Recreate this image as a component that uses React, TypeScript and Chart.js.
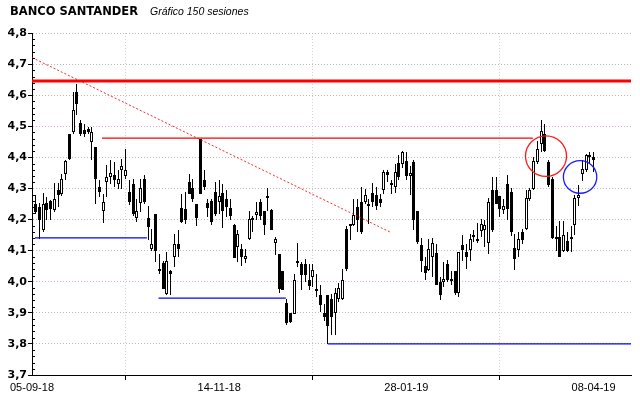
import { useEffect, useRef } from "react";
import { Chart, registerables } from "chart.js";

Chart.register(...registerables);

// ---- data ----
const dateIndex = [0, 50, 100, 150];
const dateLabels = ["05-09-18", "14-11-18", "28-01-19", "08-04-19"];

const opens = [
  4.249, 4.24, 4.167, 4.253, 4.259, 4.232, 4.296, 4.283, 4.347, 4.476,
  4.481, 4.61, 4.51, 4.489, 4.492, 4.449, 4.433, 4.306, 4.227, 4.321,
  4.336, 4.342, 4.315, 4.36, 4.34, 4.29, 4.313, 4.206, 4.253, 4.329,
  4.205, 4.106, 4.218, 4.036, 4.06, 3.961, 4.034, 4.081, 4.122, 4.236,
  4.234, 4.32, 4.302, 4.249, 4.46, 4.326, 4.253, 4.259, 4.288, 4.256,
  4.286, 4.267, 4.237, 4.181, 4.111, 4.106, 4.074, 4.138, 4.197, 4.215,
  4.258, 4.227, 4.27, 4.231, 4.125, 4.09, 4.036, 3.93, 3.899, 3.897,
  4.06, 4.058, 4.058, 4.006, 4.015, 3.972, 3.958, 3.899, 3.956, 3.945,
  3.9, 3.945, 3.945, 4.17, 4.183, 4.184, 4.24, 4.258, 4.256, 4.247,
  4.286, 4.28, 4.265, 4.294, 4.353, 4.312, 4.304, 4.381, 4.379, 4.389,
  4.34, 4.385, 4.226, 4.117, 4.052, 4.038, 4.079, 4.093, 3.999, 3.998,
  4.058, 4.007, 4.034, 3.963, 4.117, 4.097, 4.103, 4.149, 4.132, 4.162,
  4.165, 4.124, 4.294, 4.294, 4.277, 4.232, 4.315, 4.29, 4.11, 4.101,
  4.16, 4.168, 4.267, 4.299, 4.385, 4.444, 4.474, 4.385, 4.331, 4.138,
  4.143, 4.1, 4.13, 4.139, 4.181, 4.27, 4.347, 4.358, 4.401, 4.401,
];
const highs = [
  4.28, 4.253, 4.285, 4.272, 4.262, 4.316, 4.316, 4.347, 4.392, 4.476,
  4.61, 4.637, 4.521, 4.508, 4.497, 4.497, 4.433, 4.328, 4.283, 4.374,
  4.39, 4.385, 4.358, 4.395, 4.428, 4.326, 4.33, 4.267, 4.33, 4.342,
  4.242, 4.17, 4.218, 4.09, 4.068, 4.095, 4.038, 4.154, 4.165, 4.283,
  4.288, 4.347, 4.331, 4.249, 4.46, 4.36, 4.267, 4.267, 4.32, 4.326,
  4.315, 4.294, 4.267, 4.186, 4.165, 4.122, 4.106, 4.229, 4.213, 4.256,
  4.267, 4.229, 4.3, 4.235, 4.143, 4.09, 4.036, 3.946, 3.9, 4.026,
  4.124, 4.063, 4.072, 4.058, 4.058, 4.026, 3.991, 3.929, 3.956, 3.96,
  3.98, 3.995, 4.04, 4.18, 4.186, 4.267, 4.267, 4.304, 4.299, 4.267,
  4.317, 4.304, 4.283, 4.358, 4.358, 4.328, 4.379, 4.406, 4.421, 4.417,
  4.372, 4.39, 4.226, 4.14, 4.08, 4.138, 4.141, 4.122, 4.015, 4.063,
  4.07, 4.036, 4.036, 4.097, 4.149, 4.122, 4.154, 4.165, 4.188, 4.202,
  4.197, 4.268, 4.336, 4.336, 4.277, 4.267, 4.344, 4.3, 4.154, 4.16,
  4.17, 4.294, 4.3, 4.401, 4.454, 4.519, 4.506, 4.39, 4.336, 4.18,
  4.195, 4.195, 4.16, 4.18, 4.278, 4.31, 4.39, 4.41, 4.417, 4.417,
];
const lows = [
  4.219, 4.139, 4.16, 4.197, 4.197, 4.225, 4.239, 4.277, 4.328, 4.39,
  4.476, 4.535, 4.47, 4.467, 4.476, 4.39, 4.25, 4.272, 4.189, 4.274,
  4.315, 4.306, 4.299, 4.299, 4.331, 4.248, 4.213, 4.192, 4.224, 4.25,
  4.133, 4.1, 4.063, 4.025, 3.977, 3.956, 3.956, 4.047, 4.079, 4.19,
  4.186, 4.283, 4.256, 4.179, 4.283, 4.294, 4.208, 4.181, 4.213, 4.219,
  4.172, 4.208, 4.197, 4.076, 4.063, 4.052, 4.06, 4.133, 4.16, 4.2,
  4.2, 4.149, 4.229, 4.165, 4.087, 3.965, 3.972, 3.862, 3.867, 3.895,
  4.047, 3.972, 4.0, 3.972, 3.983, 3.95, 3.902, 3.873, 3.8, 3.83,
  3.83, 3.935, 3.94, 4.035, 4.133, 4.178, 4.16, 4.154, 4.251, 4.187,
  4.24, 4.23, 4.24, 4.283, 4.32, 4.283, 4.285, 4.326, 4.366, 4.326,
  4.28, 4.165, 4.12, 4.03, 4.005, 4.036, 4.015, 3.991, 3.942, 3.983,
  3.999, 3.988, 3.958, 3.95, 4.068, 4.042, 4.068, 4.127, 4.124, 4.143,
  4.111, 4.09, 4.16, 4.249, 4.208, 4.218, 4.2, 4.146, 4.038, 4.079,
  4.122, 4.165, 4.261, 4.294, 4.379, 4.417, 4.417, 4.305, 4.138, 4.1,
  4.079, 4.095, 4.095, 4.095, 4.15, 4.245, 4.325, 4.352, 4.38, 4.352,
];
const closes = [
  4.224, 4.2, 4.251, 4.231, 4.235, 4.265, 4.278, 4.329, 4.387, 4.395,
  4.553, 4.572, 4.476, 4.474, 4.481, 4.481, 4.331, 4.288, 4.258, 4.336,
  4.35, 4.326, 4.332, 4.373, 4.36, 4.256, 4.218, 4.229, 4.3, 4.256,
  4.176, 4.122, 4.099, 4.035, 3.977, 4.068, 4.025, 4.12, 4.106, 4.192,
  4.197, 4.283, 4.267, 4.206, 4.283, 4.304, 4.237, 4.192, 4.219, 4.276,
  4.229, 4.24, 4.213, 4.076, 4.152, 4.081, 4.084, 4.202, 4.198, 4.224,
  4.213, 4.181, 4.27, 4.165, 4.136, 3.977, 3.974, 3.866, 3.87, 4.006,
  4.068, 4.023, 4.022, 3.985, 4.038, 3.97, 3.924, 3.886, 3.857, 3.885,
  3.965, 3.98, 4.007, 4.04, 4.178, 4.216, 4.197, 4.16, 4.28, 4.243,
  4.258, 4.245, 4.253, 4.353, 4.342, 4.311, 4.354, 4.338, 4.418, 4.34,
  4.35, 4.197, 4.127, 4.066, 4.028, 4.104, 4.124, 3.991, 3.958, 4.009,
  4.004, 4.001, 3.963, 4.097, 4.101, 4.079, 4.139, 4.144, 4.138, 4.186,
  4.181, 4.255, 4.165, 4.249, 4.235, 4.242, 4.235, 4.16, 4.074, 4.138,
  4.135, 4.269, 4.294, 4.387, 4.428, 4.486, 4.42, 4.31, 4.14, 4.145,
  4.079, 4.149, 4.1, 4.143, 4.27, 4.278, 4.363, 4.406, 4.402, 4.39,
];
const sessions = closes.map((_, k) => k + 1);

// horizontal support / resistance levels (value, from session, to session)
const levelValues = [4.646, 4.462, 4.141, 3.947, 3.8];
const levelFrom = [0, 18.7, 0.8, 33.8, 79];
const levelTo = [160, 133.8, 30.7, 67.8, 160];

// trend line end points [session, value]
const trendStart = [0, 4.721];
const trendEnd = [95.6, 4.16];

// ellipses (center session, center value, radius sessions, radius value)
const ellipseCenterX = [137.3, 146.4];
const ellipseCenterY = [4.404, 4.337];
const ellipseRadiusX = [5.48, 4.46];
const ellipseRadiusY = [0.0653, 0.0524];

// ---- styles ----
const levelColors = ["#ff0000", "#ff0000", "#0000ff", "#0000ff", "#0000ff"];
const levelWidths = [3, 1.3, 1.3, 1.3, 1.3];
const ellipseColors = ["#ff1a1a", "#1a1aff"];
const pinkGrid = [4.5, 4.0];
const minorStep = 0.02;

export default function App() {
  const ref = useRef<HTMLCanvasElement>(null);

  useEffect(() => {
    document.body.style.margin = "0";
    const canvas = ref.current;
    if (!canvas) return;

    const bodyData = sessions.map((s, k) => ({ x: s, y: [opens[k], closes[k]] }));
    const wickData = sessions.map((s, k) => ({ x: s, y: [lows[k], highs[k]] }));

    const levelSets = levelValues.map((v, k) => ({
      type: "line" as const,
      data: [
        { x: levelFrom[k], y: v },
        { x: levelTo[k], y: v },
      ],
      borderColor: levelColors[k],
      borderWidth: levelWidths[k],
      pointRadius: 0,
      fill: false,
      tension: 0,
      order: 0,
    }));

    const trendSet = {
      type: "line" as const,
      data: [
        { x: trendStart[0], y: trendStart[1] },
        { x: trendEnd[0], y: trendEnd[1] },
      ],
      borderColor: "rgba(255,0,0,0.85)",
      borderWidth: 1,
      borderDash: [2, 2],
      pointRadius: 0,
      fill: false,
      tension: 0,
      order: 0,
    };

    const snapPlugin = {
      id: "snapBars",
      beforeDatasetsDraw(chart: any) {
        chart.data.datasets.forEach((_: any, di: number) => {
          const meta = chart.getDatasetMeta(di);
          if (meta.type !== "bar") return;
          meta.data.forEach((el: any) => {
            el.x = Math.floor(el.x) + 0.5;
            el.y = Math.round(el.y);
            el.base = Math.round(el.base);
          });
        });
      },
    };

    const ellipsePlugin = {
      id: "ellipses",
      afterDatasetsDraw(chart: any) {
        const { ctx } = chart;
        const xs = chart.scales.x;
        const ys = chart.scales.y;
        ellipseCenterX.forEach((cx, k) => {
          const px = xs.getPixelForValue(cx);
          const py = ys.getPixelForValue(ellipseCenterY[k]);
          const rx = Math.abs(xs.getPixelForValue(cx + ellipseRadiusX[k]) - px);
          const ry = Math.abs(ys.getPixelForValue(ellipseCenterY[k] + ellipseRadiusY[k]) - py);
          ctx.save();
          ctx.strokeStyle = ellipseColors[k];
          ctx.lineWidth = 1.3;
          ctx.beginPath();
          ctx.ellipse(px, py, rx, ry, 0, 0, Math.PI * 2);
          ctx.stroke();
          ctx.restore();
        });
      },
    };

    const minorTickPlugin = {
      id: "minorTicks",
      afterDraw(chart: any) {
        const { ctx, chartArea } = chart;
        const ys = chart.scales.y;
        const n = Math.round((ys.max - ys.min) / minorStep);
        ctx.save();
        ctx.strokeStyle = "#000";
        ctx.lineWidth = 1;
        for (let k = 1; k < n; k++) {
          if (k % 5 === 0) continue;
          const py = Math.round(ys.getPixelForValue(ys.min + k * minorStep)) + 0.5;
          ctx.beginPath();
          ctx.moveTo(chartArea.left, py);
          ctx.lineTo(chartArea.left + 3, py);
          ctx.stroke();
        }
        ctx.restore();
      },
    };

    const chart = new Chart(canvas, {
      type: "bar",
      data: {
        datasets: [
          ...levelSets,
          trendSet,
          {
            type: "bar" as const,
            data: bodyData as any,
            backgroundColor: (c: any) =>
              closes[c.dataIndex] >= opens[c.dataIndex] ? "#ffffff" : "#000000",
            borderColor: "#000000",
            borderWidth: 1,
            borderSkipped: false,
            barThickness: 3,
            minBarLength: 2,
            grouped: false,
            inflateAmount: 0,
            order: 1,
          },
          {
            type: "bar" as const,
            data: wickData as any,
            backgroundColor: "#000000",
            borderWidth: 0,
            barThickness: 1,
            grouped: false,
            inflateAmount: 0,
            order: 2,
          },
        ] as any,
      },
      options: {
        responsive: false,
        animation: false,
        layout: { padding: { top: 33, right: 9, left: 0, bottom: 0 } },
        plugins: {
          legend: { display: false },
          tooltip: { enabled: false },
          title: { display: false },
        },
        scales: {
          x: {
            type: "linear",
            min: 0,
            max: 160,
            offset: false,
            afterBuildTicks: (s: any) => {
              s.ticks = dateIndex.map((v) => ({ value: v }));
            },
            afterFit: (s: any) => {
              s.height = 23;
            },
            ticks: {
              autoSkip: false,
              maxRotation: 0,
              padding: 1,
              color: "#000",
              font: { family: "Liberation Sans", size: 11 },
              callback: (v: any) => {
                const k = dateIndex.indexOf(Number(v));
                return k >= 0 ? dateLabels[k] : "";
              },
            },
            grid: {
              color: (c: any) =>
                c.tick && c.tick.value === 0 ? "rgba(0,0,0,0)" : "#d8cce0",
              lineWidth: 1,
              tickColor: "#000",
              tickLength: 5,
            },
            border: { color: "#000", width: 1, dash: [1, 2] },
          },
          y: {
            min: 3.7,
            max: 4.8,
            afterFit: (s: any) => {
              s.width = 32;
            },
            ticks: {
              stepSize: 0.1,
              padding: 1,
              color: "#000",
              font: { family: "DejaVu Sans", size: 11, weight: "bold" },
              callback: (v: any) => Number(v).toFixed(1).replace(".", ","),
            },
            grid: {
              color: (c: any) => {
                const v = c.tick ? c.tick.value : 0;
                return pinkGrid.some((p) => Math.abs(p - v) < 1e-6) ? "#d8a8d8" : "#b8b8b8";
              },
              lineWidth: 1,
              tickColor: "#000",
              tickLength: 4,
            },
            border: { color: "#000", width: 1, dash: [1, 2] },
          },
        },
      } as any,
      plugins: [snapPlugin, ellipsePlugin, minorTickPlugin],
    });

    return () => chart.destroy();
  }, []);

  return (
    <div
      style={{
        position: "fixed",
        left: 0,
        top: 0,
        width: 640,
        height: 398,
        background: "#fff",
      }}
    >
      <canvas ref={ref} width={640} height={398} style={{ position: "absolute", left: 0, top: 0 }} />
      <div
        style={{
          position: "absolute",
          left: 10,
          top: 5,
          font: 'bold 11.5px "DejaVu Sans"',
          lineHeight: "12px",
          color: "#000",
          whiteSpace: "nowrap",
        }}
      >
        BANCO SANTANDER
      </div>
      <div
        style={{
          position: "absolute",
          left: 150,
          top: 5,
          font: 'italic 10.5px "Liberation Sans"',
          lineHeight: "12px",
          color: "#000",
          whiteSpace: "nowrap",
        }}
      >
        Gráfico 150 sesiones
      </div>
    </div>
  );
}
